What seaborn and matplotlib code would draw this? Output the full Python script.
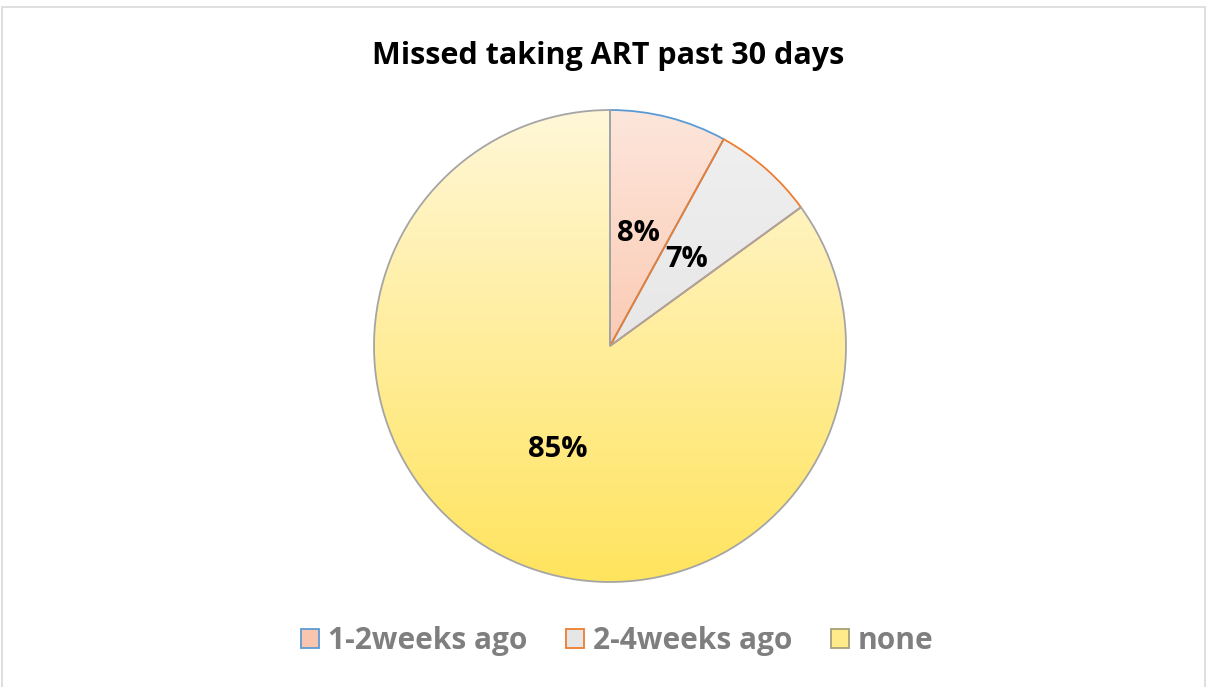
import numpy as np
import matplotlib
matplotlib.use("Agg")
import matplotlib.pyplot as plt
import seaborn as sns
from matplotlib.patches import Patch, Rectangle
from matplotlib.colors import LinearSegmentedColormap

sns.set_theme(style="white")
plt.rcParams['font.family'] = ['Open Sans', 'DejaVu Sans']

# Data
categories = ["1-2weeks ago", "2-4weeks ago", "none"]
values = [8, 7, 85]
labels = ["8%", "7%", "85%"]
title = "Missed taking ART past 30 days"

edge_colors = ["#5B9BD5", "#ED7D31", "#A5A5A5"]
grad_top = ["#FDE6DB", "#F0F0F0", "#FFF7D8"]
grad_bot = ["#F8B08E", "#DEDEDE", "#FFE45E"]

W, H = 1208, 687
fig = plt.figure(figsize=(W / 100, H / 100), dpi=100)
fig.patch.set_facecolor("white")

cx, cy, r = 610, 346, 236
ax = fig.add_axes([(cx - r) / W, (H - cy - r) / H, 2 * r / W, 2 * r / H])
ax.set_axis_off()

wedges, _ = ax.pie(values, startangle=90, counterclock=False, radius=1,
                   colors=grad_bot,
                   wedgeprops=dict(linewidth=1.3))
for w, ec, top, bot in zip(wedges, edge_colors, grad_top, grad_bot):
    cmap = LinearSegmentedColormap.from_list("g", [top, bot])
    grad = np.linspace(0, 1, 256).reshape(-1, 1)
    img = ax.imshow(grad, extent=[-1, 1, -1, 1], cmap=cmap, aspect="auto",
                    zorder=1, origin="upper")
    img.set_clip_path(w)
    w.set_facecolor("none")
    w.set_edgecolor(ec)
    w.set_zorder(3)
ax.set_xlim(-1, 1)
ax.set_ylim(-1, 1)

start = 90.0
total = sum(values)
for v, lab in zip(values, labels):
    sweep = 360.0 * v / total
    mid = np.deg2rad(start - sweep / 2)
    start -= sweep
    rr = 0.49
    x, y = rr * np.cos(mid), rr * np.sin(mid)
    ax.text(x, y, lab, ha="center", va="center", fontsize=21,
            fontweight="bold", color="black", zorder=5)

fig.text(608 / W, 1 - 56 / H, title, ha="center", va="center",
         fontsize=22, fontweight="bold", color="black")

handles = [Patch(facecolor=c, edgecolor=ec, linewidth=1.3)
           for c, ec in zip(["#FAC5AE", "#E6E6E6", "#FFEB8A"],
                            ["#5B9BD5", "#ED7D31", "#A5A07A"])]
fig.legend(handles, categories, loc="center", ncol=3,
           bbox_to_anchor=(617 / W, 1 - 641 / H), frameon=False,
           prop=dict(size=21.5, weight="bold"), labelcolor="#7F7F7F",
           handlelength=0.6, handleheight=0.6, handletextpad=0.3,
           columnspacing=1.3)

fig.add_artist(Rectangle((2 / W, -0.01), (1205 - 2) / W, 1 - 7 / H + 0.01,
                         transform=fig.transFigure, fill=False,
                         edgecolor="#D9D9D9", linewidth=1.2))

fig.savefig("out.png", dpi=100, facecolor="white")
